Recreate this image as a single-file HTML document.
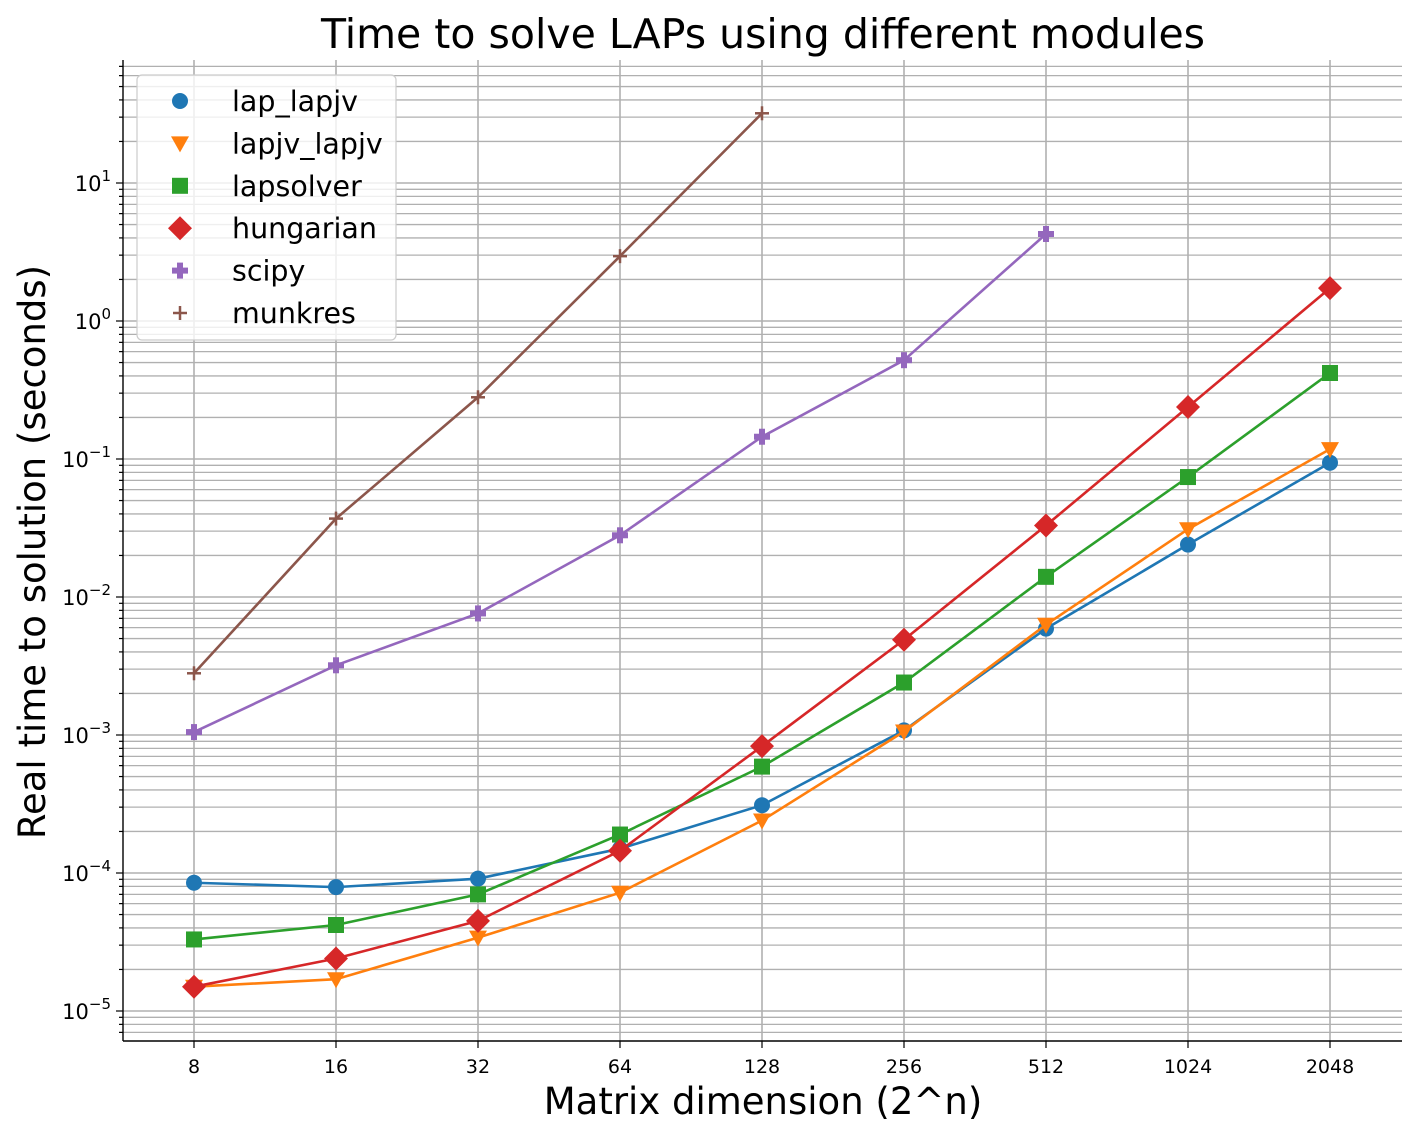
<!DOCTYPE html>
<html><head><meta charset="utf-8"><style>
body{margin:0;background:#fff;}
svg text{font-family:"DejaVu Sans","Liberation Sans",sans-serif;fill:#000;}
</style></head><body>
<svg id="chart" width="1420" height="1136" xmlns="http://www.w3.org/2000/svg"></svg>
<script>
const categories=["8","16","32","64","128","256","512","1024","2048"];
const lap_lapjv=[8.5e-5,7.9e-5,9.1e-5,1.5e-4,3.1e-4,1.08e-3,5.9e-3,2.4e-2,9.4e-2];
const lapjv_lapjv=[1.5e-5,1.7e-5,3.4e-5,7.2e-5,2.4e-4,1.06e-3,6.3e-3,3.1e-2,0.118];
const lapsolver=[3.3e-5,4.2e-5,7.0e-5,1.9e-4,5.9e-4,2.4e-3,1.4e-2,7.4e-2,0.42];
const hungarian=[1.5e-5,2.4e-5,4.5e-5,1.45e-4,8.3e-4,4.9e-3,3.3e-2,0.238,1.73];
const scipy=[1.05e-3,3.2e-3,7.6e-3,2.8e-2,0.145,0.52,4.27];
const munkres=[2.8e-3,3.7e-2,0.28,2.95,32];
const yTickExps=[-5,-4,-3,-2,-1,0,1];

const svg=document.getElementById('chart');
const NS="http://www.w3.org/2000/svg";
const L=123,R=1402,T=60,B=1041;
function xs(i){return 194+i*142;}
function ys(v){return 321-Math.log10(v)*138;}
function mk(tag,attrs,parent){const e=document.createElementNS(NS,tag);for(const k in attrs)e.setAttribute(k,attrs[k]);(parent||svg).appendChild(e);return e;}

const grid=mk('g',{});


for(let e=-6;e<=1;e++){for(let m=1;m<=9;m++){const v=m*Math.pow(10,e);const y=ys(v);if(y<T||y>B)continue;
 mk('line',{x1:L,x2:R,y1:y,y2:y,stroke:'#b0b0b0','stroke-width':m==1?1.6:1.3},grid);
 mk('line',{x1:L-(m==1?7:4),x2:L,y1:y,y2:y,stroke:'#000','stroke-width':1.2},grid);}}
categories.forEach((c,i)=>{mk('line',{x1:xs(i),x2:xs(i),y1:T,y2:B,stroke:'#b0b0b0','stroke-width':1.6},grid);
 mk('line',{x1:xs(i),x2:xs(i),y1:B,y2:B+7,stroke:'#000','stroke-width':1.2},grid);
 const t=mk('text',{x:xs(i),y:B+32,'text-anchor':'middle','font-size':19});
 
 
 t.textContent=c;});
yTickExps.forEach(e=>{const t=mk('text',{x:L-12,y:ys(Math.pow(10,e))+8,'text-anchor':'end','font-size':21});
 
 
 t.textContent='10';const s=mk('tspan',{dy:-10,'font-size':15},t);s.textContent=e<0?'\u2212'+Math.abs(e):String(e);});
mk('line',{x1:L,x2:L,y1:T,y2:B,stroke:'#000','stroke-width':1.4});
mk('line',{x1:L,x2:R,y1:B,y2:B,stroke:'#000','stroke-width':1.4});

function marker(g,type,x,y,color){
 if(type=='o')mk('circle',{cx:x,cy:y,r:8,fill:color},g);
 else if(type=='v')mk('polygon',{points:`${x-9},${y-7} ${x+9},${y-7} ${x},${y+9}`,fill:color},g);
 else if(type=='s')mk('rect',{x:x-8,y:y-8,width:16,height:16,fill:color},g);
 else if(type=='D')mk('polygon',{points:`${x},${y-12} ${x+12},${y} ${x},${y+12} ${x-12},${y}`,fill:color},g);
 else if(type=='P'){mk('rect',{x:x-8,y:y-3,width:16,height:6,fill:color},g);mk('rect',{x:x-3,y:y-8,width:6,height:16,fill:color},g);}
 else if(type=='+'){mk('line',{x1:x-7,x2:x+7,y1:y,y2:y,stroke:color,'stroke-width':2.5},g);mk('line',{x1:x,x2:x,y1:y-7,y2:y+7,stroke:color,'stroke-width':2.5},g);}
}
const series=[["lap_lapjv",lap_lapjv,'#1f77b4','o'],["lapjv_lapjv",lapjv_lapjv,'#ff7f0e','v'],["lapsolver",lapsolver,'#2ca02c','s'],["hungarian",hungarian,'#d62728','D'],["scipy",scipy,'#9467bd','P'],["munkres",munkres,'#8c564b','+']];
series.forEach(([name,vals,color,m])=>{const g=mk('g',{});
 
 
 mk('polyline',{points:vals.map((v,i)=>xs(i)+','+ys(v)).join(' '),fill:'none',stroke:color,'stroke-width':2.6},g);
 vals.forEach((v,i)=>marker(g,m,xs(i),ys(v),color));});

const lg=mk('g',{});


mk('rect',{x:137,y:75,width:259,height:265,rx:5,fill:'#fff','fill-opacity':0.8,stroke:'#ccc','stroke-width':1.2},lg);
series.forEach(([name,vals,color,m],k)=>{const y=101+k*42.4;const e=mk('g',{},lg);
 
 
 marker(e,m,180,y,color);const t=mk('text',{x:232,y:y+10,'font-size':28.5},e);t.textContent=name;});

const tt=mk('text',{x:763,y:48,'text-anchor':'middle','font-size':41});


tt.textContent='Time to solve LAPs using different modules';
const xt=mk('text',{x:763,y:1114,'text-anchor':'middle','font-size':37});


xt.textContent='Matrix dimension (2^n)';
const yt=mk('text',{x:0,y:0,'text-anchor':'middle','font-size':37,transform:'translate(45,552) rotate(-90)'});


yt.textContent='Real time to solution (seconds)';
</script>
</body></html>
